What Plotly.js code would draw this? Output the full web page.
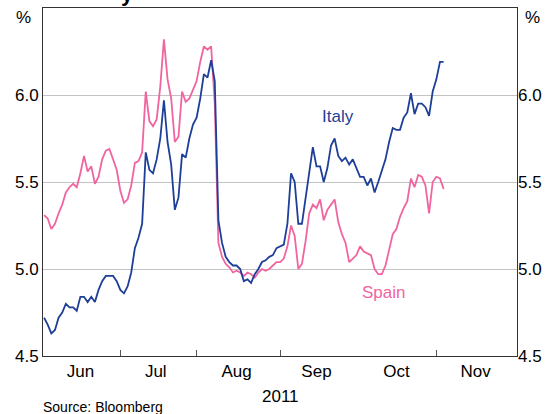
<!DOCTYPE html>
<html><head><meta charset="utf-8">
<script src="https://cdn.plot.ly/plotly-3.0.1.min.js"></script>
<style>html,body{margin:0;padding:0;background:#fff}#chart{width:559px;height:414px}</style>
</head><body><div id="chart"></div>
<script>
// 10-year government bond yields, %, business days from 2 Jun 2011
const startDate = '2011-06-02';
const italy = [
 4.72,4.68,4.63,4.65,4.72,4.75,4.80,4.78,4.78,4.76,
 4.84,4.84,4.81,4.84,4.81,4.88,4.93,4.96,4.96,4.96,
 4.93,4.88,4.86,4.90,4.98,5.12,5.18,5.26,5.67,5.57,
 5.55,5.63,5.75,5.97,5.73,5.60,5.34,5.41,5.66,5.64,
 5.75,5.83,5.87,5.98,6.12,6.10,6.20,6.08,5.28,5.15,
 5.07,5.04,5.02,5.02,5.00,4.93,4.94,4.92,4.97,5.00,
 5.04,5.05,5.07,5.08,5.12,5.13,5.14,5.26,5.55,5.50,
 5.26,5.26,5.41,5.57,5.70,5.59,5.59,5.50,5.58,5.71,
 5.75,5.65,5.62,5.64,5.60,5.63,5.58,5.53,5.53,5.48,
 5.52,5.44,5.50,5.56,5.63,5.73,5.81,5.80,5.80,5.87,
 5.90,6.01,5.89,5.95,5.95,5.93,5.88,6.02,6.09,6.19,6.19
];
const spain = [
 5.31,5.29,5.23,5.26,5.32,5.37,5.44,5.47,5.49,5.47,
 5.55,5.65,5.56,5.59,5.49,5.53,5.63,5.68,5.69,5.63,
 5.57,5.45,5.38,5.40,5.48,5.61,5.62,5.67,6.02,5.85,
 5.82,5.86,6.05,6.32,6.09,5.98,5.73,5.76,6.02,5.96,
 5.98,6.03,6.08,6.19,6.28,6.26,6.28,5.95,5.15,5.07,
 5.03,5.01,4.98,4.99,4.98,4.96,4.98,4.97,4.95,4.98,
 5.00,4.99,5.00,5.02,5.04,5.04,5.06,5.13,5.25,5.19,
 5.00,5.03,5.16,5.32,5.37,5.35,5.40,5.28,5.34,5.37,
 5.40,5.27,5.20,5.15,5.04,5.06,5.08,5.13,5.10,5.09,
 5.08,5.00,4.97,4.97,5.02,5.11,5.20,5.23,5.30,5.35,
 5.39,5.52,5.47,5.54,5.53,5.48,5.32,5.50,5.53,5.52,5.46
];
const yTickVals = [4.5, 5.0, 5.5, 6.0];
const monthLabels = ['Jun', 'Jul', 'Aug', 'Sep', 'Oct', 'Nov'];
const monthLabelPos = ['2011-06-16', '2011-07-14 18:00', '2011-08-16', '2011-09-15', '2011-10-17', '2011-11-15 20:00'];
const monthStarts = ['2011-07-01', '2011-08-01', '2011-09-01', '2011-10-01', '2011-11-01'];
const seriesNames = ['Italy', 'Spain'];

function businessDays(start, n) {
  const out = [];
  const d = new Date(start + 'T00:00:00Z');
  while (out.length < n) {
    const wd = d.getUTCDay();
    if (wd !== 0 && wd !== 6) out.push(d.toISOString().slice(0, 10));
    d.setUTCDate(d.getUTCDate() + 1);
  }
  return out;
}
const dates = businessDays(startDate, italy.length);

const FONT = 'Liberation Sans, Arial, sans-serif';
const BLUE = '#1e3f98';
const PINK = '#f0659f';

const traces = [
  {x: dates, y: spain, name: seriesNames[1], type: 'scatter', mode: 'lines',
   line: {color: PINK, width: 1.8}, xaxis: 'x', yaxis: 'y', hoverinfo: 'skip'},
  {x: dates, y: italy, name: seriesNames[0], type: 'scatter', mode: 'lines',
   line: {color: BLUE, width: 1.8}, xaxis: 'x', yaxis: 'y2', hoverinfo: 'skip'}
];

const yCommon = {
  range: [4.5, 6.5], tickmode: 'array', tickvals: yTickVals, tickformat: '.1f',
  ticks: '', zeroline: false, fixedrange: true,
  tickfont: {family: FONT, size: 17, color: '#000'}
};

const layout = {
  width: 559, height: 414,
  margin: {l: 43, r: 42, t: 8, b: 58, pad: 0},
  paper_bgcolor: '#fff', plot_bgcolor: '#fff',
  showlegend: false,
  font: {family: FONT, color: '#000'},
  xaxis: {
    type: 'date',
    range: ['2011-06-01 17:00', '2011-12-01 05:00'],
    rangebreaks: [{bounds: ['sat', 'mon']}],
    tickmode: 'array', tickvals: monthLabelPos, ticktext: monthLabels,
    ticks: '', 
    minor: {tickmode: 'array', tickvals: monthStarts, ticks: 'inside', ticklen: 6,
            tickcolor: '#555', tickwidth: 1, showgrid: false},
    showline: true, mirror: true, linecolor: '#333', linewidth: 1,
    showgrid: false, zeroline: false, fixedrange: true,
    tickfont: {family: FONT, size: 17, color: '#000'}
  },
  yaxis: Object.assign({}, yCommon, {
    side: 'left', showgrid: true, gridcolor: '#c3c3c3', gridwidth: 1,
    showline: true, mirror: true, linecolor: '#333', linewidth: 1
  }),
  yaxis2: Object.assign({}, yCommon, {
    side: 'right', overlaying: 'y', showgrid: false, showline: false
  }),
  annotations: [
    {text: '%', xref: 'paper', yref: 'paper', x: -0.042, y: 0.974, showarrow: false,
     xanchor: 'center', yanchor: 'middle', font: {family: FONT, size: 17, color: '#000'}},
    {text: '%', xref: 'paper', yref: 'paper', x: 1.032, y: 0.974, showarrow: false,
     xanchor: 'center', yanchor: 'middle', font: {family: FONT, size: 17, color: '#000'}},
    {text: 'Italy', xref: 'paper', yref: 'paper', x: 0.622, y: 0.688, showarrow: false,
     xanchor: 'center', yanchor: 'middle', font: {family: FONT, size: 17, color: BLUE}},
    {text: 'Spain', xref: 'paper', yref: 'paper', x: 0.719, y: 0.183, showarrow: false,
     xanchor: 'center', yanchor: 'middle', font: {family: FONT, size: 17, color: PINK}},
    {text: '2011', xref: 'paper', yref: 'paper', x: 0.5, y: -0.115, showarrow: false,
     xanchor: 'center', yanchor: 'middle', font: {family: FONT, size: 17, color: '#000'}},
    {text: 'Source: Bloomberg', xref: 'paper', yref: 'paper', x: -0.004, y: -0.147, showarrow: false,
     xanchor: 'left', yanchor: 'middle', font: {family: FONT, size: 14, color: '#000'}},
    {text: '<b>y</b>', xref: 'paper', yref: 'paper', x: 0.178, y: 1.043, showarrow: false,
     xanchor: 'center', yanchor: 'middle', font: {family: FONT, size: 22, color: '#000'}}
  ]
};

Plotly.newPlot('chart', traces, layout, {staticPlot: true, displayModeBar: false});
</script>
</body></html>
